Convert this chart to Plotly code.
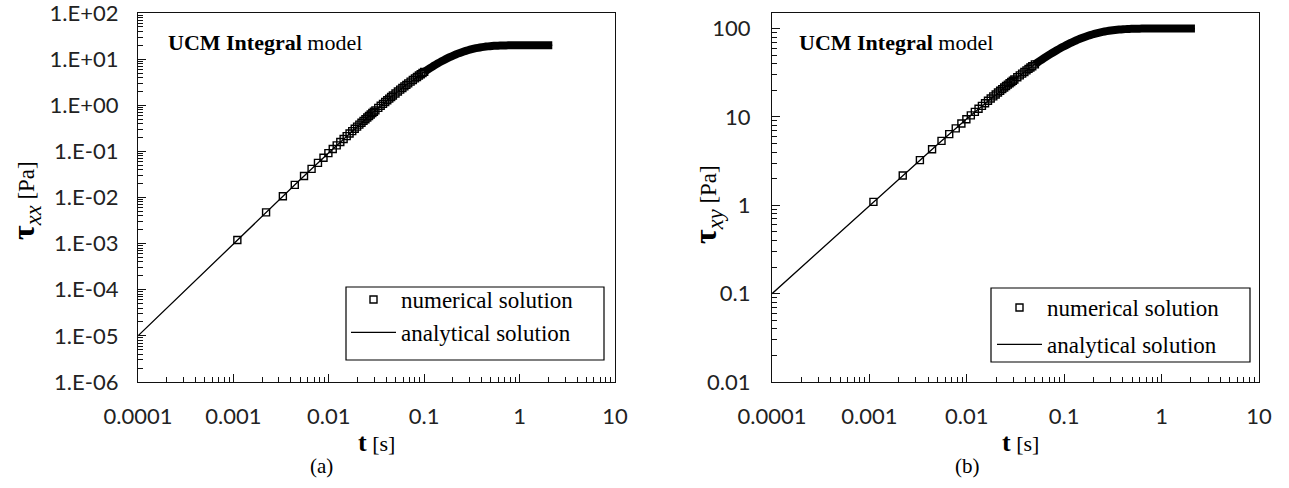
import plotly.graph_objects as go

# ---------------- data ----------------
# numerical solution: time [s]
t_num = [0.0011, 0.0022, 0.0033, 0.0044, 0.0055, 0.0066, 0.0077, 0.0088, 0.0099, 0.011,
         0.0121, 0.0132, 0.0143, 0.0154, 0.0165, 0.0176, 0.0187, 0.0198, 0.0209, 0.022,
         0.0231, 0.0242, 0.0253, 0.0264, 0.0275, 0.0286, 0.0297, 0.0308,
         0.033, 0.035, 0.037, 0.039, 0.041, 0.043, 0.045, 0.047,
         0.050, 0.053, 0.056, 0.059, 0.062, 0.065, 0.068,
         0.072, 0.076, 0.080, 0.084, 0.088, 0.092, 0.096,
         0.100, 0.105, 0.110, 0.115, 0.120,
         0.126, 0.132, 0.138, 0.145, 0.152, 0.160, 0.168, 0.176, 0.185, 0.194,
         0.204, 0.214, 0.225, 0.236, 0.248, 0.260, 0.273, 0.287,
         0.301, 0.316, 0.332, 0.349, 0.366, 0.384,
         0.403, 0.423, 0.444, 0.466, 0.489,
         0.513, 0.539, 0.566, 0.594, 0.624, 0.655, 0.688,
         0.722, 0.758, 0.796, 0.836, 0.878, 0.922, 0.968,
         1.016, 1.067, 1.12,
         1.18, 1.24, 1.30, 1.37, 1.44, 1.51, 1.58, 1.66, 1.74, 1.83, 1.92, 2.01, 2.11, 2.20]

# numerical solution: tau_xx [Pa]
txx_num = [0.001201, 0.004769, 0.01065, 0.01879, 0.02916, 0.04169, 0.05633, 0.07305, 0.09178, 0.1125,
           0.1351, 0.1597, 0.1860, 0.2142, 0.2442, 0.2757, 0.3090, 0.3439, 0.3805, 0.4185,
           0.4581, 0.4992, 0.5417, 0.5857, 0.6309, 0.6775, 0.7254, 0.7746,
           0.8766, 0.9734, 1.0739, 1.1778, 1.2851, 1.3954, 1.5088, 1.6249,
           1.8041, 1.9887, 2.1783, 2.3724, 2.5706, 2.7725, 2.9777,
           3.2557, 3.5382, 3.8242, 4.1130, 4.4042, 4.6969, 4.9906,
           5.2848, 5.6525, 6.0194, 6.3846, 6.7475,
           7.1788, 7.6049, 8.0248, 8.5061, 8.9769, 9.5014, 10.010, 10.503, 11.038, 11.550,
           12.094, 12.611, 13.149, 13.655, 14.171, 14.652, 15.135, 15.612,
           16.047, 16.470, 16.876, 17.261, 17.602, 17.919,
           18.212, 18.478, 18.717, 18.928, 19.114,
           19.275, 19.417, 19.536, 19.635, 19.718, 19.784, 19.838,
           19.880, 19.912, 19.937, 19.956, 19.970, 19.980, 19.987,
           19.991, 19.995, 19.997,
           20.0, 20.0, 20.0, 20.0, 20.0, 20.0, 20.0, 20.0, 20.0, 20.0, 20.0, 20.0, 20.0, 20.0]

# numerical solution: tau_xy [Pa]
txy_num = [1.094, 2.176, 3.246, 4.305, 5.352, 6.387, 7.411, 8.424, 9.426, 10.42,
           11.40, 12.37, 13.32, 14.27, 15.21, 16.14, 17.06, 17.96, 18.86, 19.75,
           20.63, 21.49, 22.35, 23.20, 24.04, 24.87, 25.70, 26.51,
           28.11, 29.53, 30.93, 32.29, 33.63, 34.95, 36.24, 37.50,
           39.35, 41.14, 42.88, 44.57, 46.21, 47.80, 49.34,
           51.32, 53.23, 55.07, 56.83, 58.52, 60.15, 61.71,
           63.21, 65.01, 66.71, 68.34, 69.88,
           71.63, 73.29, 74.84, 76.54, 78.13, 79.81, 81.36, 82.80, 84.28, 85.63,
           87.00, 88.23, 89.46, 90.56, 91.63, 92.57, 93.48, 94.33,
           95.07, 95.76, 96.38, 96.95, 97.43, 97.85,
           98.22, 98.54, 98.82, 99.05, 99.25,
           99.41, 99.54, 99.65, 99.74, 99.81, 99.86, 99.90,
           99.93, 99.95, 99.97, 99.98, 99.98, 99.99, 99.99,
           100.0, 100.0, 100.0,
           100.0, 100.0, 100.0, 100.0, 100.0, 100.0, 100.0, 100.0, 100.0, 100.0, 100.0, 100.0, 100.0, 100.0]

# analytical solution
t_ana = [0.0001, 0.001, 0.005, 0.01, 0.02, 0.03, 0.05, 0.07, 0.1, 0.15, 0.2, 0.3, 0.4, 0.5, 0.7, 1.0, 2.2]
txx_ana = [1.0e-5, 9.93e-4, 0.02419, 0.0936, 0.3505, 0.7387, 1.804, 3.116, 5.285, 8.843,
           11.88, 16.02, 18.17, 19.19, 19.85, 19.99, 20.0]
txy_ana = [0.09995, 0.995, 4.877, 9.516, 18.13, 25.92, 39.35, 50.34, 63.21, 77.69,
           86.47, 95.02, 98.17, 99.33, 99.91, 100.0, 100.0]

# axis ticks
x_tickvals = [0.0001, 0.001, 0.01, 0.1, 1, 10]
x_ticktext = ["0.0001", "0.001", "0.01", "0.1", "1", "10"]
y1_tickvals = [1e-6, 1e-5, 1e-4, 1e-3, 1e-2, 1e-1, 1e0, 1e1, 1e2]
y1_ticktext = ["1.E-06", "1.E-05", "1.E-04", "1.E-03", "1.E-02", "1.E-01", "1.E+00", "1.E+01", "1.E+02"]
y2_tickvals = [0.01, 0.1, 1, 10, 100]
y2_ticktext = ["0.01", "0.1", "1", "10", "100"]

# time from which the (very dense) numerical markers merge into a solid band
dense_from_xx = 0.100
dense_from_xy = 0.050

# ---------------- figure ----------------
W, H = 1289, 488
def px(x):
    return x / W
def py(y):
    return 1 - y / H

def minor_vals(lo, hi):
    return [m * 10.0 ** d for d in range(lo, hi) for m in range(2, 10)]

SERIF = "Liberation Serif"
SANS = "Lato"

fig = go.Figure()
mk = dict(symbol="square-open", size=7, color="black", line=dict(width=1.4, color="black"))
ln = dict(color="black", width=1.3)
band = dict(color="black", width=8, simplify=False)

i_xx = t_num.index(dense_from_xx)
i_xy = t_num.index(dense_from_xy)

fig.add_trace(go.Scatter(x=t_num[:i_xx + 1], y=txx_num[:i_xx + 1], mode="markers", marker=mk,
                         name="numerical solution", xaxis="x", yaxis="y", legend="legend", legendgroup="a1"))
fig.add_trace(go.Scatter(x=t_num[i_xx:], y=txx_num[i_xx:], mode="lines", line=band, showlegend=False,
                         legend="legend", legendgroup="a1", hoverinfo="skip", xaxis="x", yaxis="y"))
fig.add_trace(go.Scatter(x=t_ana, y=txx_ana, mode="lines", line=ln, name="analytical solution",
                         xaxis="x", yaxis="y", legend="legend", legendgroup="a2"))
fig.add_trace(go.Scatter(x=t_num[:i_xy + 1], y=txy_num[:i_xy + 1], mode="markers", marker=mk,
                         name="numerical solution", xaxis="x2", yaxis="y2", legend="legend2", legendgroup="b1"))
fig.add_trace(go.Scatter(x=t_num[i_xy:], y=txy_num[i_xy:], mode="lines", line=band, showlegend=False,
                         legend="legend2", legendgroup="b1", hoverinfo="skip", xaxis="x2", yaxis="y2"))
fig.add_trace(go.Scatter(x=t_ana, y=txy_ana, mode="lines", line=ln, name="analytical solution",
                         xaxis="x2", yaxis="y2", legend="legend2", legendgroup="b2"))

def axis(rng, domain, anchor, tv, tt, mv, standoff):
    return dict(type="log", range=rng, domain=domain, anchor=anchor, automargin=False,
                showline=True, linecolor="#111", linewidth=1.3, mirror=True,
                ticks="inside", ticklen=8, tickwidth=1.2, tickcolor="#111",
                tickmode="array", tickvals=tv, ticktext=tt,
                minor=dict(ticks="inside", ticklen=5, tickwidth=1, tickcolor="#111",
                           tickmode="array", tickvals=mv, showgrid=False),
                showgrid=False, zeroline=False, ticklabeloverflow="allow",
                tickfont=dict(family=SANS, size=22, color="#222"),
                ticklabelstandoff=standoff)

ydom = [py(382), py(13)]
fig.update_layout(
    template="none",
    width=W, height=H, margin=dict(l=0, r=0, t=0, b=0, autoexpand=False),
    paper_bgcolor="white", plot_bgcolor="white",
    xaxis=axis([-4, 1], [px(138), px(615)], "y", x_tickvals, x_ticktext, minor_vals(-4, 1), 14),
    yaxis=axis([-6, 2.0005], ydom, "x", y1_tickvals, y1_ticktext, minor_vals(-6, 2), 14),
    xaxis2=axis([-4, 1], [px(772), px(1259)], "y2", x_tickvals, x_ticktext, minor_vals(-4, 1), 14),
    yaxis2=axis([-2, 2.176], ydom, "x2", y2_tickvals, y2_ticktext, minor_vals(-2, 3), 16),
    legend=dict(x=px(346), y=py(278), xanchor="left", yanchor="top", bgcolor="rgba(0,0,0,0)",
                borderwidth=0, font=dict(family=SERIF, size=23, color="black"),
                tracegroupgap=0, itemwidth=45),
    legend2=dict(x=px(992), y=py(286), xanchor="left", yanchor="top", bgcolor="rgba(0,0,0,0)",
                 borderwidth=0, font=dict(family=SERIF, size=23, color="black"),
                 tracegroupgap=4, itemwidth=45),
    showlegend=True,
)

# legend frames
for x0, x1, y0, y1 in [(346, 604, 287, 360), (991, 1250, 288, 362)]:
    fig.add_shape(type="rect", xref="paper", yref="paper", x0=px(x0), x1=px(x1), y0=py(y1), y1=py(y0),
                  line=dict(color="black", width=1.2), fillcolor="rgba(0,0,0,0)")

ann_font = dict(family=SERIF, size=22, color="black")
annotations = [
    dict(text="<b>UCM Integral</b> model", x=px(166), y=py(42), xanchor="left", font=ann_font),
    dict(text="<b>UCM Integral</b> model", x=px(797), y=py(42), xanchor="left", font=ann_font),
    dict(text="<span style='font-size:26px'><b>t</b></span> [s]", x=px(377), y=py(442), font=dict(family=SERIF, size=22, color="black")),
    dict(text="<span style='font-size:26px'><b>t</b></span> [s]", x=px(1021), y=py(442), font=dict(family=SERIF, size=22, color="black")),
    dict(text="(a)", x=px(321), y=py(466), font=dict(family=SERIF, size=21, color="black")),
    dict(text="(b)", x=px(967), y=py(466), font=dict(family=SERIF, size=21, color="black")),
    dict(text="<b>τ</b><sub><i>xx</i></sub><span style='font-size:23px'> [Pa]</span>", textangle=-90,
         x=px(25), y=py(200), font=dict(family=SERIF, size=32, color="black")),
    dict(text="<b>τ</b><sub><i>xy</i></sub><span style='font-size:23px'> [Pa]</span>", textangle=-90,
         x=px(707), y=py(205), font=dict(family=SERIF, size=32, color="black")),
]
for a in annotations:
    a.setdefault("xanchor", "center")
    a.update(xref="paper", yref="paper", showarrow=False, yanchor="middle")
    fig.add_annotation(**a)

# remove the default 8px page margin so the figure fills the 1289x488 window
fig.write_html("out.html", config={"displayModeBar": False},
               post_script="document.body.style.margin='0';")
